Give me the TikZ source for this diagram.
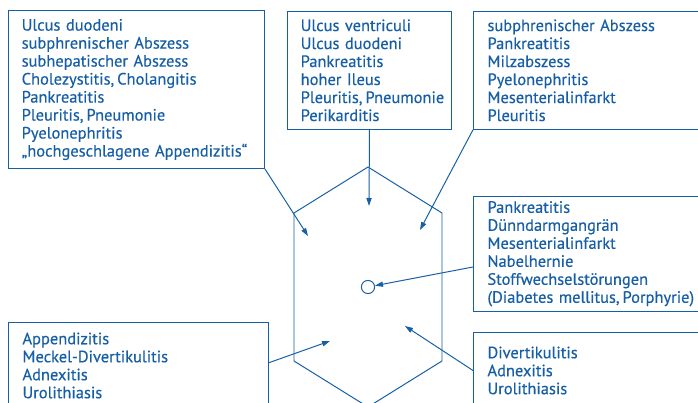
\documentclass[tikz,border=0pt]{standalone}
\usepackage{fontspec}
\setmainfont{PT Sans}
\newfontfamily\boxfont{PT Sans}[FakeBold=0.4]
\newcommand{\boxschrift}{\boxfont\fontsize{11.7}{12.8}\selectfont
  \hyphenpenalty=10000\relax}
\newcommand{\komma}{,\hspace{0.18em}}
\usetikzlibrary{arrows.meta,positioning}
\definecolor{klinik}{RGB}{22,94,165}

\begin{document}
\begin{tikzpicture}[
  box/.style={draw=klinik, line width=0.7pt, anchor=north west, align=left,
              inner xsep=0.33cm, text=klinik, font=\boxschrift},
  pfeil/.style={draw=klinik, line width=0.7pt,
                -{Triangle[length=2mm,width=1.3mm]}}
]
\useasboundingbox (0,0) rectangle (17.45,-10.075);
\clip (0,0) rectangle (17.45,-10.075);
% Abdomen
\draw[klinik, line width=0.7pt] (9.2,-4.175) -- (11.05,-5.325) -- (11.05,-9.025)
  -- (9.2,-10.175) -- (7.35,-9.025) -- (7.35,-5.325) -- cycle;
\node[circle, draw=klinik, line width=0.7pt, minimum size=0.33cm, inner sep=0pt]
  (nabel) at (9.2,-7.175) {};
% Boxes
\node[box, text width=5.74cm, minimum height=3.95cm] (upleft) at (0.2,-0.25) {
  Ulcus duodeni\\subphrenischer Abszess\\subhepatischer Abszess\\
  Cholezystitis\komma Cholangitis\\Pankreatitis\\Pleuritis\komma Pneumonie\\
  Pyelonephritis\\„hochgeschlagene~Appendizitis“};
\node[box, text width=3.44cm, minimum height=2.95cm] (epi) at (7.175,-0.27) {
  Ulcus~ventriculi\\Ulcus~duodeni\\Pankreatitis\\hoher~Ileus\\
  \mbox{Pleuritis\komma Pneumonie}\\Perikarditis};
\node[box, inner xsep=0.35cm, text width=5.8cm, minimum height=2.95cm]
  (upright) at (11.825,-0.27) {
  subphrenischer Abszess\\Pankreatitis\\Milzabszess\\Pyelonephritis\\
  Mesenterialinfarkt\\Pleuritis};
\node[box, inner xsep=0.35cm, text width=5.8cm, minimum height=2.8cm]
  (umbil) at (11.825,-4.9) {
  Pankreatitis\\Dünndarmgangrän\\Mesenterialinfarkt\\Nabelhernie\\
  Stoffwechselstörungen\\(Diabetes mellitus\komma Porphyrie)};
\node[box, inner xsep=0.35cm, text width=5.8cm, minimum height=2.15cm]
  (lowleft) at (0.2,-8.05) {
  Appendizitis\\Meckel-Divertikulitis\\Adnexitis\\Urolithiasis};
\node[box, inner xsep=0.35cm, text width=5.8cm, minimum height=1.9cm]
  (lowright) at (11.825,-8.3) {
  Divertikulitis\\Adnexitis\\Urolithiasis};
% Arrow tips
\coordinate (zul) at (7.7,-5.9);
\coordinate (zum) at (9.225,-5.15);
\coordinate (zur) at (10.5,-5.75);
\coordinate (zll) at (8.25,-8.525);
\coordinate (zlr) at (10.125,-8.15);
% Connecting structure
\draw[pfeil] (upleft.south east) -- (zul);
\draw[pfeil] (epi.south) -- (zum);
\draw[pfeil] (upright.south west) -- (zur);
\draw[pfeil] ([yshift=-0.33cm]umbil.west) -- (nabel);
\draw[pfeil] ([yshift=0.07cm]lowleft.east) -- (zll);
\draw[pfeil] (lowright.west) -- (zlr);
\end{tikzpicture}
\end{document}
